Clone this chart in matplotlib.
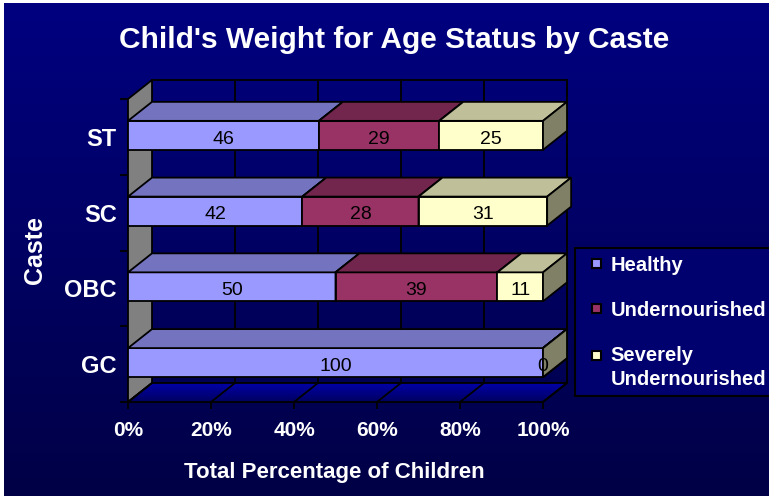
import numpy as np
import matplotlib
matplotlib.use("Agg")
import matplotlib.pyplot as plt
from matplotlib.patches import Polygon, Patch, Rectangle
from matplotlib.colors import LinearSegmentedColormap, to_rgb
from matplotlib.legend_handler import HandlerPatch

# data (bottom to top, as drawn)
castes = ["GC", "OBC", "SC", "ST"]
healthy = [100, 50, 42, 46]
undernourished = [0, 39, 28, 29]
severely = [0, 11, 31, 25]
series_names = ["Healthy", "Undernourished", "Severely\nUndernourished"]
series_colors = ["#9999FF", "#993366", "#FFFFCC"]
xticks = [0, 20, 40, 60, 80, 100]
xtick_labels = ["0%", "20%", "40%", "60%", "80%", "100%"]

plt.rcParams["font.family"] = ["Liberation Sans", "DejaVu Sans"]

W, H = 769, 496
fig = plt.figure(figsize=(W / 100, H / 100), dpi=100)
fig.patch.set_facecolor("white")

# dark blue gradient background (thin white strip left and top)
bg = fig.add_axes([4 / W, 0, 1 - 4 / W, 1 - 3 / H], zorder=-10)
grad = np.linspace(0, 1, 256).reshape(-1, 1)
bg.imshow(grad, cmap=LinearSegmentedColormap.from_list("bg", ["#000080", "#000046"]),
          aspect="auto", extent=(0, 1, 0, 1))
bg.axis("off")

# front plane of the 3-D plot area, in pixels
px0, px1, py_floor, py_top = 128, 543, 402, 99
ax = fig.add_axes([px0 / W, (H - py_floor) / H, (px1 - px0) / W, (py_floor - py_top) / H])
n = len(castes)
dx = 24 * 100 / (px1 - px0)          # depth offset in data units
dy = 19 * n / (py_floor - py_top)
lw = 1.3


def shade(c, f):
    return tuple(v * f for v in to_rgb(c))


# back wall + gridlines
ax.add_patch(Polygon([(dx, dy), (100 + dx, dy), (100 + dx, n + dy), (dx, n + dy)],
                     fill=False, ec="black", lw=lw, clip_on=False, zorder=1))
for t in xticks:
    ax.plot([t + dx, t + dx], [dy, n + dy], color="black", lw=lw, clip_on=False, zorder=1)

# left side wall
ax.add_patch(Polygon([(0, 0), (dx, dy), (dx, n + dy), (0, n)], fc="#808080",
                     ec="black", lw=lw, clip_on=False, zorder=2))

# floor with gradient
floor = Polygon([(0, 0), (100, 0), (100 + dx, dy), (dx, dy)], fc="none",
                ec="black", lw=lw, clip_on=False, zorder=3)
ax.add_patch(floor)
fim = ax.imshow(grad, cmap=LinearSegmentedColormap.from_list("fl", ["#0000A8", "#000060"]),
                extent=(0, 100 + dx, 0, dy), aspect="auto", zorder=2.5)
fim.set_clip_box(fig.bbox)
fim.set_clip_path(floor)
for t in xticks:
    ax.plot([t, t + dx], [0, dy], color="black", lw=lw, clip_on=False, zorder=3)

# 3-D stacked bars
ypos = np.arange(n) + 0.52
bh = 0.383
left = np.zeros(n)
for k, (vals, col) in enumerate(zip([healthy, undernourished, severely], series_colors)):
    vals = np.array(vals, dtype=float)
    z = 5 + k
    ax.barh(ypos, vals, left=left, height=bh, color=col, edgecolor="black",
            linewidth=lw, zorder=z, clip_on=False)
    for i in range(n):
        l, r = left[i], left[i] + vals[i]
        b, t = ypos[i] - bh / 2, ypos[i] + bh / 2
        ax.add_patch(Polygon([(l, t), (r, t), (r + dx, t + dy), (l + dx, t + dy)],
                             fc=shade(col, 0.75), ec="black", lw=lw, clip_on=False, zorder=z))
        ax.add_patch(Polygon([(r, b), (r + dx, b + dy), (r + dx, t + dy), (r, t)],
                             fc=shade(col, 0.5), ec="black", lw=lw, clip_on=False, zorder=z))
        if vals[i] > 0 or k == 2:
            ax.text((l + r) / 2, ypos[i] - 0.05, f"{vals[i]:.0f}", ha="center", va="center",
                    fontsize=14, color="black", zorder=20)
    left = left + vals

ax.set_xlim(0, 100)
ax.set_ylim(0, n)
ax.patch.set_visible(False)
for s in ax.spines.values():
    s.set_visible(False)

ax.set_xticks(xticks, xtick_labels)
ax.tick_params(axis="x", length=5, width=lw, color="black", labelcolor="white",
               labelsize=15, pad=8.5)
ax.set_yticks(range(n + 1), [""] * (n + 1))
ax.set_yticks(np.arange(n) + 0.5, castes, minor=True)
ax.tick_params(axis="y", which="major", length=6, width=lw, color="black")
ax.tick_params(axis="y", which="minor", length=0, labelcolor="white", labelsize=17, pad=8)
for lab in ax.get_xticklabels() + ax.get_yticklabels(minor=True):
    lab.set_fontweight("bold")

ax.set_xlabel("Total Percentage of Children", fontsize=16, fontweight="bold", color="white")
ax.xaxis.set_label_coords(0.496, -0.199)
ax.set_ylabel("Caste", fontsize=18, fontweight="bold", color="white", va="center")
ax.yaxis.set_label_coords(-0.224, 0.5)

fig.text(394 / W, 1 - 40 / H, "Child's Weight for Age Status by Caste", ha="center",
         va="center", fontsize=21.5, fontweight="bold", color="white")


# legend: small square markers, the two-line entry's marker sits on its first line
def square(shift):
    def make(legend, orig_handle, xdescent, ydescent, width, height, fontsize):
        sq = 0.45 * fontsize
        return Rectangle((-xdescent + width - sq, -ydescent + (height - sq) / 2 + shift * fontsize),
                         sq, sq)
    return make


handles = [Patch(facecolor=c, edgecolor="black", linewidth=1.5) for c in series_colors]
hmap = {h: HandlerPatch(patch_func=square(0.62 if "\n" in name else 0))
        for h, name in zip(handles, series_names)}
# box runs past the right edge of the figure, as in the original
leg = fig.legend(handles, series_names, loc="upper left", handler_map=hmap, mode="expand",
                 bbox_to_anchor=(575 / W, 1 - 397 / H, 230 / W, 149 / H), borderaxespad=0,
                 fancybox=False, facecolor="#00006E", edgecolor="black", framealpha=1,
                 prop={"weight": "bold", "size": 14.5}, labelcolor="white",
                 handlelength=0.9, handleheight=0.7, handletextpad=0.5,
                 borderpad=0.38, labelspacing=1.3)
leg.get_frame().set_linewidth(1.5)
for txt in leg.get_texts():
    txt.set_linespacing(1.3)

fig.savefig("out.png", dpi=100)
